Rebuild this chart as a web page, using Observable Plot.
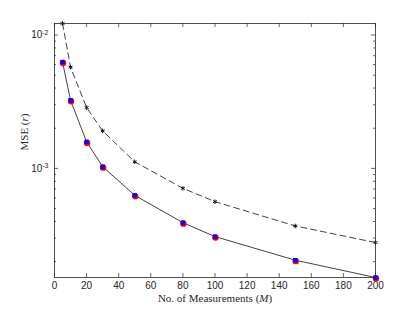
<!DOCTYPE html>
<html><head><meta charset="utf-8">
<script src="https://cdn.jsdelivr.net/npm/d3@7"></script>
<script src="https://cdn.jsdelivr.net/npm/@observablehq/plot@0.6"></script>
<style>body{margin:0;background:#fff} #chart svg{display:block}</style>
</head><body><div id="chart"></div>
<script>
// Data
const measurements = [5, 10, 20, 30, 50, 80, 100, 150, 200];
const mseDashed = [0.0122, 5.74e-3, 2.86e-3, 1.91e-3, 1.12e-3, 7.09e-4, 5.63e-4, 3.70e-4, 2.78e-4];
const mseSolid  = [6.27e-3, 3.24e-3, 1.58e-3, 1.03e-3, 6.28e-4, 3.92e-4, 3.08e-4, 2.05e-4, 1.52e-4];
const xTicks = [0, 20, 40, 60, 80, 100, 120, 140, 160, 180, 200];
const yMajor = [1e-3, 1e-2];
const yMinor = [2e-4, 3e-4, 4e-4, 5e-4, 6e-4, 7e-4, 8e-4, 9e-4, 2e-3, 3e-3, 4e-3, 5e-3, 6e-3, 7e-3, 8e-3, 9e-3];
const xLabel = "No. of Measurements (M)";
const yLabel = "MSE (r)";

const W = 415, H = 312, mL = 54, mR = 40, mT = 23, mB = 35;
const innerW = W - mL - mR, innerH = H - mT - mB;
const rows = measurements.map((m, i) => ({m, a: mseDashed[i], b: mseSolid[i]}));
const serif = "Liberation Serif, DejaVu Serif, serif";
const axisColor = "#262626";

const plot = Plot.plot({
  width: W, height: H,
  marginLeft: mL, marginRight: mR, marginTop: mT, marginBottom: mB,
  style: {fontFamily: "Liberation Sans, Arial, sans-serif", fontSize: "10px", color: axisColor, background: "#fff"},
  x: {domain: [0, 200]},
  y: {type: "log", domain: [1.52e-4, 0.0122]},
  marks: [
    Plot.tickX(xTicks, {x: d => d, insetTop: innerH - 4, stroke: axisColor, strokeWidth: 0.7}),
    Plot.tickX(xTicks, {x: d => d, insetBottom: innerH - 4, stroke: axisColor, strokeWidth: 0.7}),
    Plot.tickY(yMajor, {y: d => d, insetRight: innerW - 4, stroke: axisColor, strokeWidth: 0.7}),
    Plot.tickY(yMajor, {y: d => d, insetLeft: innerW - 4, stroke: axisColor, strokeWidth: 0.7}),
    Plot.tickY(yMinor, {y: d => d, insetRight: innerW - 2, stroke: axisColor, strokeWidth: 0.7}),
    Plot.tickY(yMinor, {y: d => d, insetLeft: innerW - 2, stroke: axisColor, strokeWidth: 0.7}),
    Plot.axisX(xTicks, {tickSize: 0, tickPadding: 4, label: null, fill: axisColor}),
    Plot.axisY(yMajor, {tickSize: 0, tickPadding: 6, label: null, fill: axisColor,
      tickFormat: d => "10^" + Math.round(Math.log10(d))}),
    Plot.line(rows, {x: "m", y: "a", stroke: "#111", strokeWidth: 0.8, strokeDasharray: "6,4"}),
    Plot.dot(rows, {x: "m", y: "a", symbol: "asterisk", r: 2.1, stroke: "#111", strokeWidth: 1}),
    Plot.line(rows, {x: "m", y: "b", stroke: "#111", strokeWidth: 0.8}),
    Plot.dot(rows, {x: "m", y: "b", r: 3.2, fill: "red", dx: 0.5, dy: 1}),
    Plot.dot(rows, {x: "m", y: "b", symbol: "square", r: 2.5, fill: "blue"}),
    Plot.frame({stroke: axisColor, strokeWidth: 0.8}),
    Plot.text([xLabel], {frameAnchor: "bottom", dy: 24, text: d => d, fontFamily: serif, fontSize: 11, fill: axisColor}),
    Plot.text([yLabel], {frameAnchor: "left", dx: -30, rotate: -90, text: d => d, fontFamily: serif, fontSize: 11, fill: axisColor})
  ]
});
document.getElementById("chart").appendChild(plot);

// superscript exponents on the log-axis tick labels
d3.select(plot).selectAll('g[aria-label="y-axis tick label"] text').each(function () {
  const t = this.textContent;
  if (!t.includes("^")) return;
  const e = t.split("^")[1].replace("−", "-");
  const s = d3.select(this);
  s.text(null);
  s.append("tspan").text("10");
  s.append("tspan").attr("dy", "-0.5em").attr("font-size", "7px").text(e);
});
// italic math symbols in labels
d3.select(plot).selectAll("text").each(function () {
  const t = this.textContent;
  const s = d3.select(this);
  if (t === xLabel) {
    s.text(null);
    s.append("tspan").text("No. of Measurements (");
    s.append("tspan").attr("font-style", "italic").text("M");
    s.append("tspan").text(")");
  } else if (t === yLabel) {
    s.text(null);
    s.append("tspan").text("MSE (");
    s.append("tspan").attr("font-style", "italic").text("r");
    s.append("tspan").text(")");
  }
});
</script>
</body></html>
